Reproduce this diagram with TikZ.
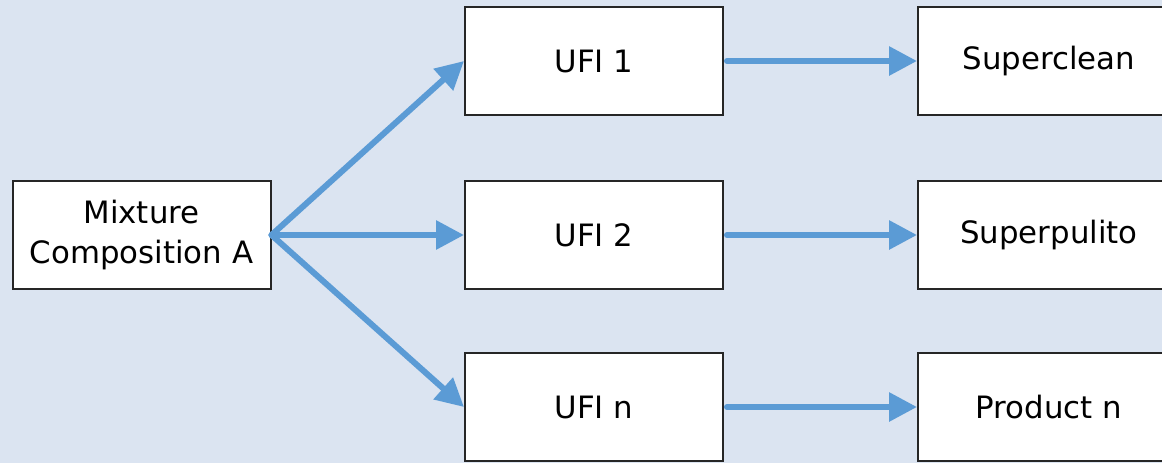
\documentclass[tikz,border=0pt]{standalone}
\usepackage{fontspec}
\setmainfont{DejaVu Sans}
\usetikzlibrary{arrows.meta}
\definecolor{bgblue}{HTML}{DBE4F1}
\definecolor{arrowblue}{HTML}{5B9BD5}
\begin{document}
\begin{tikzpicture}[x=1pt,y=-1pt,
  box/.style={draw=black!85, line width=2pt, fill=white, minimum width=258pt, minimum height=108pt, inner sep=0pt, align=center, font=\fontsize{30.8}{40}\selectfont},
  wbox/.style={box, minimum width=262pt},
  flow/.style={draw=arrowblue, line width=6pt, line cap=round, -{Triangle[length=28pt,width=28pt]}}]
\fill[bgblue] (0,0) rectangle (1162,463);
\useasboundingbox (0,0) rectangle (1162,463);
\clip (0,0) rectangle (1162,463);
\node[box] (m) at (141.5,235) {Mixture\\Composition A};
\node[box] (u1) at (594,61) {UFI 1};
\node[box] (u2) at (594,235) {UFI 2};
\node[box] (un) at (594,407) {UFI n};
\node[wbox] (p1) at (1049,61) {Superclean};
\node[wbox] (p2) at (1049,235) {Superpulito};
\node[wbox] (pn) at (1049,407) {Product n};
\draw[flow] (m.east) -- (u1.west);
\draw[flow] (m.east) -- (u2.west);
\draw[flow] (m.east) -- (un.west);
\draw[flow, shorten <=3pt] (u1.east) -- (p1.west);
\draw[flow, shorten <=3pt] (u2.east) -- (p2.west);
\draw[flow, shorten <=3pt] (un.east) -- (pn.west);
\end{tikzpicture}
\end{document}
